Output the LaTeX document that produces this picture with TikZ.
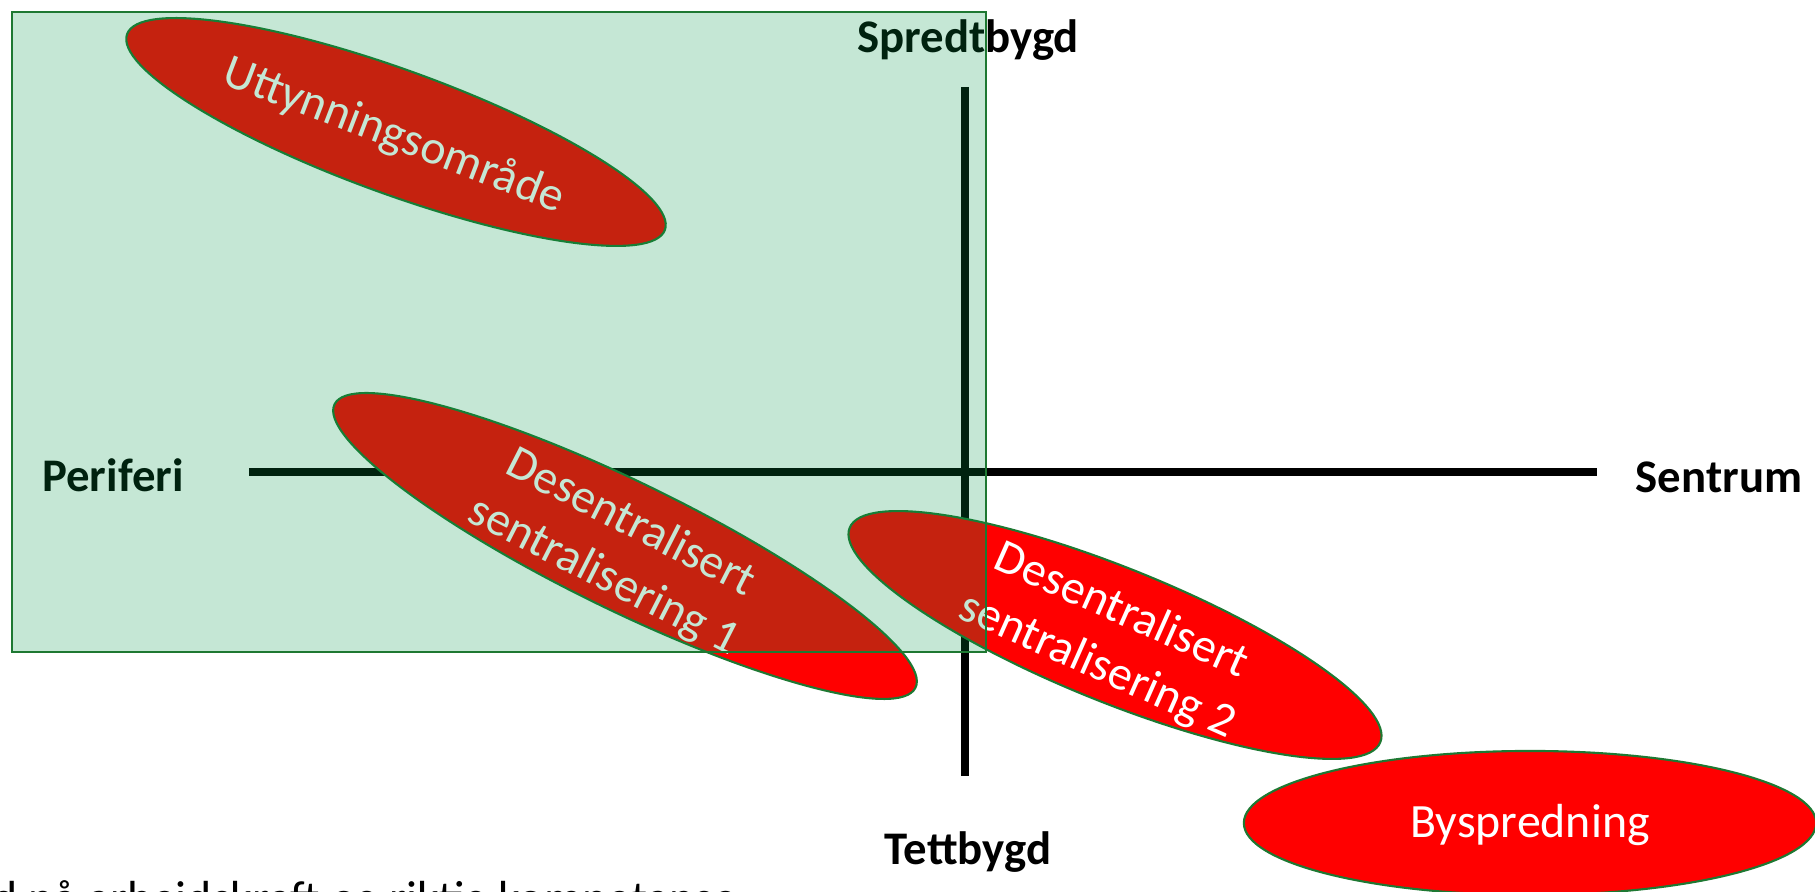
\documentclass[tikz,border=0pt]{standalone}
\usepackage{fontspec}
\setmainfont{Carlito}
\usetikzlibrary{shapes.geometric}
\definecolor{ovgreen}{RGB}{0,150,70}
\definecolor{edgegreen}{RGB}{30,120,50}
\begin{document}
\begin{tikzpicture}[x=0.01cm,y=-0.01cm,
  blob/.style={ellipse, draw=edgegreen, line width=0.6pt, fill=red, inner sep=0pt},
  blobtext/.style={text=white, align=center, inner sep=0pt, font=\fontsize{13.6}{17}\selectfont},
  axislabel/.style={font=\bfseries\fontsize{13.3}{16}\selectfont, text=black, inner sep=0pt},
  axisline/.style={line width=2pt, draw=black}]
\useasboundingbox (0,0) rectangle (1815,892);
\clip (0,0) rectangle (1815,892);
% axes
\coordinate (hl) at (249,472);
\coordinate (hr) at (1597,472);
\coordinate (vt) at (965,87);
\coordinate (vb) at (965,776);
\draw[axisline] (hl) -- (hr);
\draw[axisline] (vt) -- (vb);
% axis labels
\node[axislabel] (spredt) at (968,40) {Spredtbygd};
\node[axislabel] (periferi) at (113,475) {Periferi};
\node[axislabel] (sentrum) at (1719,477) {Sentrum};
\node[axislabel] (tett) at (968,852) {Tettbygd};
% ellipses
\node[blob, rotate=-20, minimum width=5.72cm, minimum height=1.24cm] (utt) at (396,132) {};
\node[blobtext, rotate=-21] (uttT) at ([shift={(-2,4)}]utt.center) {Uttynningsområde};
\node[blob, rotate=-26, minimum width=6.46cm, minimum height=1.28cm] (ds1) at (625,546) {};
\node[blobtext, rotate=-27] (ds1T) at ([shift={(-8,4)}]ds1.center) {Desentralisert\\sentralisering 1};
\node[blob, rotate=-22, minimum width=5.72cm, minimum height=1.34cm] (ds2) at (1115,635) {};
\node[blobtext, rotate=-24] (ds2T) at ([shift={(-6,4)}]ds2.center) {Desentralisert\\sentralisering 2};
\node[blob, minimum width=5.72cm, minimum height=1.44cm] (bysp) at (1530,823) {};
\node[blobtext] (byspT) at ([shift={(0,2)}]bysp.center) {Byspredning};
% bottom text (cut off)
\node[anchor=base west, inner sep=0pt, font=\fontsize{13.6}{16}\selectfont] (bottom) at (-8,915) {d på arbeidskraft og riktig kompetanse};
% translucent overlay
\draw[draw=edgegreen, line width=0.7pt, fill=ovgreen, fill opacity=0.227] (12,12) rectangle (986,652);
\end{tikzpicture}
\end{document}
